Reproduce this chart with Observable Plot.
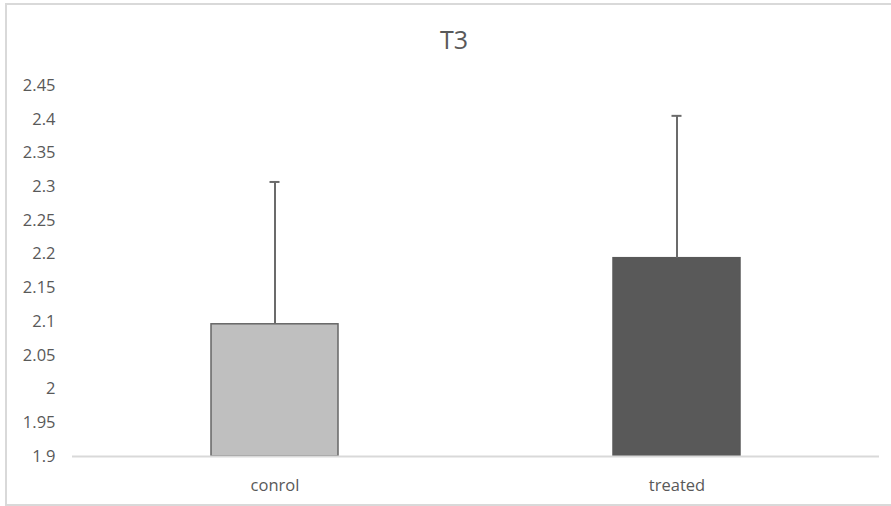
<!DOCTYPE html>
<html>
<head>
<meta charset="utf-8">
<script src="https://cdn.jsdelivr.net/npm/d3@7"></script>
<script src="https://cdn.jsdelivr.net/npm/@observablehq/plot@0.6"></script>
<style>
  html, body { margin: 0; padding: 0; background: #fff; overflow: hidden; }
  #wrap { position: relative; width: 891px; height: 506px; overflow: hidden; }
  .bl { position: absolute; background: #d9d9d9; }
  #bTop { left: 5px; top: 3px; width: 886px; height: 1.5px; }
  #bLeft { left: 5px; top: 3px; width: 1.5px; height: 502.5px; }
  #bBottom { left: 5px; top: 504px; width: 886px; height: 1.5px; }
  #title { position: absolute; top: 26.8px; left: 454px; transform: translateX(-50%); font-family: "Open Sans", sans-serif; font-size: 25px; line-height: 1; color: #595959; white-space: nowrap; }
  #chart { position: absolute; left: 0; top: 0; }
</style>
</head>
<body>
<div id="wrap">
  <div class="bl" id="bTop"></div>
  <div class="bl" id="bLeft"></div>
  <div class="bl" id="bBottom"></div>
  <div id="title">T3</div>
  <div id="chart"></div>
</div>
<script>
const categories = ["conrol", "treated"];
const values = [2.096, 2.194];
const errors = [0.211, 0.211];
const barColors = ["#bfbfbf", "#595959"];
const yTicks = [1.9, 1.95, 2, 2.05, 2.1, 2.15, 2.2, 2.25, 2.3, 2.35, 2.4, 2.45];

const data = categories.map((c, i) => ({cat: c, value: values[i], err: errors[i], top: values[i] + errors[i], color: barColors[i]}));

const plot = Plot.plot({
  width: 891,
  height: 506,
  marginLeft: 72,
  marginRight: 12,
  marginTop: 85,
  marginBottom: 50,
  style: {fontFamily: "Open Sans, sans-serif", fontSize: "16.5px", color: "#595959", background: "transparent"},
  x: {domain: categories, paddingInner: 0.685, paddingOuter: 0.344, label: null},
  y: {domain: [1.9, 2.45], label: null},
  marks: [
    Plot.barY(data, {x: "cat", y1: 1.9, y2: "value", fill: "color", stroke: d => d.cat === "conrol" ? "#666666" : "#595959", strokeWidth: 1.5}),
    Plot.ruleY([1.9], {stroke: "#d9d9d9", strokeWidth: 2}),
    Plot.ruleX(data, {x: "cat", y1: "value", y2: "top", stroke: "#6b6b6b", strokeWidth: 2}),
    Plot.tickY(data, {x: "cat", y: "top", stroke: "#6b6b6b", strokeWidth: 2, insetLeft: 58.5, insetRight: 58.5}),
    Plot.axisY({ticks: yTicks, tickSize: 0, tickPadding: 17, tickFormat: d => String(+d.toFixed(2)), fill: "#595959"}),
    Plot.axisX({tickSize: 0, tickPadding: 23, fill: "#595959"})
  ]
});
document.getElementById("chart").appendChild(plot);
</script>
</body>
</html>
